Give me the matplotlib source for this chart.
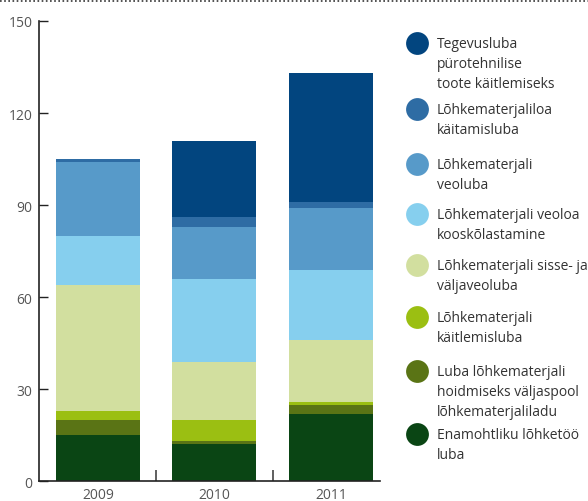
import matplotlib.pyplot as plt
from matplotlib.lines import Line2D

years = ['2009', '2010', '2011']

# stacked from the bottom up
labels = [
    'Enamohtliku lõhketöö\nluba',
    'Luba lõhkematerjali\nhoidmiseks väljaspool\nlõhkematerjaliladu',
    'Lõhkematerjali\nkäitlemisluba',
    'Lõhkematerjali sisse- ja\nväljaveoluba',
    'Lõhkematerjali veoloa\nkooskõlastamine',
    'Lõhkematerjali\nveoluba',
    'Lõhkematerjaliloa\nkäitamisluba',
    'Tegevusluba\npürotehnilise\ntoote käitlemiseks',
]
values = [
    [15, 12, 22],
    [5, 1, 3],
    [3, 7, 1],
    [41, 19, 20],
    [16, 27, 23],
    [24, 17, 20],
    [1, 3, 2],
    [0, 25, 42],
]
colors = ['#0a4514', '#5a7415', '#9bbf12', '#d2df9f',
          '#86cfee', '#579ac9', '#2e6ca4', '#02457f']

plt.rcParams['font.family'] = ['Open Sans', 'DejaVu Sans']

fig = plt.figure(figsize=(5.88, 5.02), dpi=100)
ax = fig.add_axes([0.0668, 0.0392, 0.579, 0.917])

x = range(len(years))
bottom = [0, 0, 0]
for vals, c in zip(values, colors):
    ax.bar(x, vals, width=0.72, bottom=bottom, color=c, linewidth=0)
    bottom = [b + v for b, v in zip(bottom, vals)]

ax.set_xlim(-0.504, 2.42)
ax.set_ylim(0, 150)
ax.set_yticks([0, 30, 60, 90, 120, 150])
ax.set_xticks(list(x))
ax.set_xticklabels(years)
ax.set_xticks([0.5, 1.5], minor=True)

for s in ['top', 'right']:
    ax.spines[s].set_visible(False)
for s in ['left', 'bottom']:
    ax.spines[s].set_linewidth(1.2)
    ax.spines[s].set_color('#222222')

ax.tick_params(axis='y', direction='in', length=6.5, width=1, color='#222222',
               labelsize=10, labelcolor='#555555', pad=5)
ax.tick_params(axis='x', which='major', length=0, labelsize=10,
               labelcolor='#555555', pad=4)
ax.tick_params(axis='x', which='minor', direction='in', length=8, width=1.2,
               color='#444444')

# legend drawn in pixel coordinates
lg = fig.add_axes([0, 0, 1, 1], facecolor='none')
lg.set_xlim(0, 588)
lg.set_ylim(502, 0)
lg.axis('off')
ys = [435, 372, 318, 266, 215, 165, 110, 44]
for lab, c, yy in zip(labels, colors, ys):
    lg.scatter([417], [yy], s=270, color=c, linewidths=0)
    lg.text(437, yy - 7, lab, va='top', ha='left', fontsize=10,
            color='#333333', linespacing=1.45)

fig.add_artist(Line2D([0, 1], [0.997, 0.997], transform=fig.transFigure,
                      color='#333333', linestyle=(0, (1, 1.5)), linewidth=1.2))

fig.savefig('out.png', dpi=100)
